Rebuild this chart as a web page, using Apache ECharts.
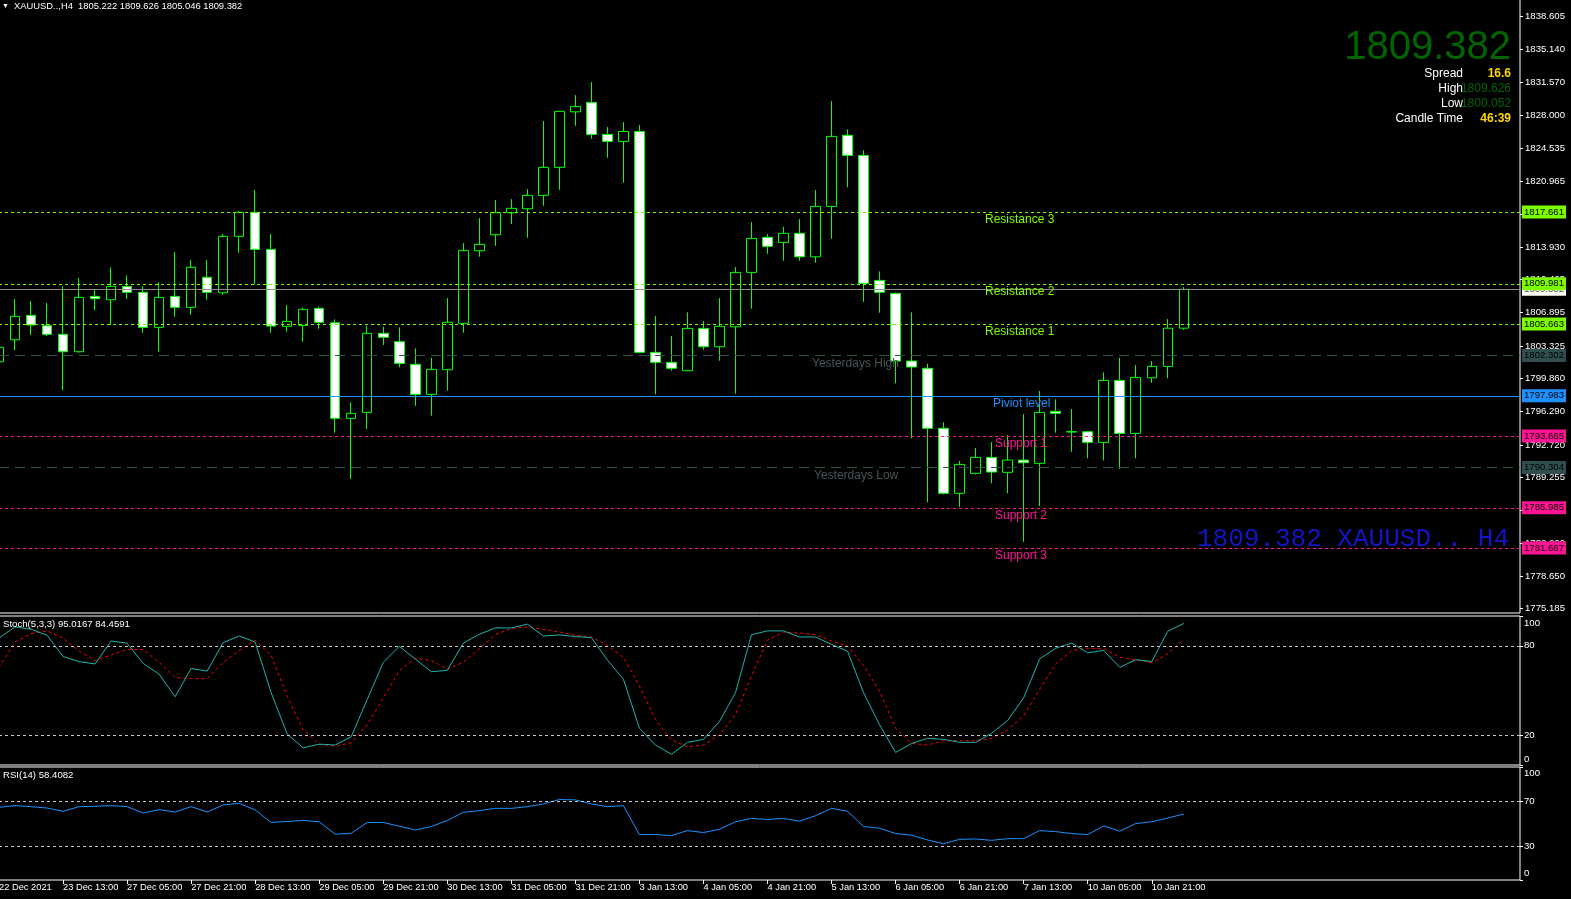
<!DOCTYPE html>
<html><head><meta charset="utf-8">
<script src="https://cdn.jsdelivr.net/npm/echarts@6/dist/echarts.min.js"></script>
<style>html,body{margin:0;padding:0;background:#000;overflow:hidden}#c{width:1571px;height:899px;}</style>
</head><body><div id="c"></div>
<script>
// ---------- DATA ----------
const opens  = [1801.62,1803.98,1806.60,1805.48,1804.56,1802.70,1808.63,1808.27,1809.70,1809.06,
  1805.31,1808.63,1807.45,1810.67,1809.02,1815.06,1817.63,1813.66,1805.42,1805.52,
  1807.34,1805.80,1795.56,1796.20,1804.67,1803.77,1801.35,1798.13,1800.77,1805.74,
  1813.51,1815.23,1817.59,1818.01,1819.45,1822.45,1828.40,1829.41,1825.98,1825.23,
  1826.30,1802.63,1801.56,1800.66,1805.20,1803.23,1805.37,1811.20,1814.95,1814.41,
  1815.38,1812.87,1818.27,1825.88,1823.73,1810.34,1808.95,1801.70,1800.92,1794.49,
  1787.53,1789.67,1791.38,1789.78,1791.09,1790.74,1796.31,1794.13,1794.13,1792.99,
  1799.63,1793.95,1799.91,1801.13,1805.222];
const highs  = [1803.50,1808.34,1808.13,1807.91,1809.73,1810.59,1809.41,1811.74,1810.88,1809.73,
  1810.16,1813.38,1812.52,1812.52,1815.30,1817.74,1820.02,1815.30,1807.70,1807.41,
  1807.52,1806.17,1797.28,1805.48,1805.37,1805.31,1803.06,1802.05,1808.45,1814.34,
  1817.02,1818.95,1819.05,1820.12,1827.41,1828.48,1830.19,1831.59,1826.77,1827.30,
  1826.98,1806.52,1804.38,1806.92,1805.98,1808.45,1811.77,1816.59,1815.30,1816.09,
  1816.91,1820.02,1829.55,1826.52,1824.27,1811.31,1809.06,1806.92,1801.41,1795.13,
  1790.99,1792.38,1793.02,1793.77,1796.02,1798.49,1797.60,1796.56,1794.20,1800.49,
  1802.05,1801.27,1801.70,1806.20,1809.626];
const lows   = [1801.40,1802.88,1804.48,1804.38,1798.59,1802.60,1807.16,1805.56,1808.34,1804.73,
  1802.70,1806.45,1806.66,1808.27,1808.80,1813.30,1809.92,1804.73,1804.84,1803.77,
  1805.16,1794.02,1789.06,1794.42,1803.41,1801.02,1796.91,1795.84,1798.52,1804.73,
  1812.87,1814.05,1816.38,1814.91,1818.34,1820.05,1826.91,1825.51,1823.48,1820.80,
  1802.55,1798.13,1800.66,1800.60,1802.91,1801.73,1798.20,1807.30,1813.19,1812.44,
  1812.44,1812.23,1814.80,1820.31,1808.05,1806.87,1799.31,1793.42,1786.56,1787.42,
  1786.09,1789.56,1788.60,1787.53,1782.34,1786.17,1794.02,1791.98,1791.28,1791.06,
  1790.13,1791.28,1799.38,1799.85,1805.046];
const closes = [1803.17,1806.49,1805.56,1804.56,1802.70,1808.52,1808.37,1809.70,1809.06,1805.31,
  1808.52,1807.45,1811.74,1809.06,1815.06,1817.63,1813.66,1805.45,1805.95,1807.24,
  1805.85,1795.56,1796.10,1804.67,1804.24,1801.45,1798.13,1800.81,1805.85,1813.56,
  1814.20,1817.59,1818.06,1819.45,1822.45,1828.45,1828.98,1825.98,1825.23,1826.30,
  1802.63,1801.56,1800.92,1805.20,1803.23,1805.42,1811.20,1814.84,1813.99,1815.38,
  1812.87,1818.27,1825.77,1823.73,1810.02,1809.06,1801.70,1801.06,1794.49,1787.53,
  1790.63,1791.38,1789.81,1791.09,1790.81,1796.20,1796.10,1794.10,1792.99,1799.63,
  1793.95,1799.95,1801.13,1805.22,1809.382];

const stochMain = [85.2,92.7,91.1,87.1,72.8,69.4,67.8,83.2,81.8,68.2,
  61.0,45.8,64.8,63.0,82.1,86.6,82.5,48.5,20.8,11.5,
  14.0,13.4,19.0,44.0,68.9,79.6,71.2,62.6,63.5,81.8,
  87.7,92.0,92.0,94.5,86.6,87.3,86.2,85.5,70.5,57.6,
  24.7,13.4,7.2,15.2,17.2,29.2,48.5,87.5,90.0,90.0,
  85.9,85.9,80.9,76.4,48.5,27.0,8.4,14.5,17.9,17.2,
  15.2,15.2,21.3,29.9,45.1,71.2,78.4,81.8,75.3,76.9,
  65.5,70.7,69.4,89.8,95.0167];
const stochSignal = [65.5,82.5,88.2,90.0,85.2,76.4,70.1,73.9,77.5,77.5,
  68.9,58.7,58.0,58.0,68.9,76.9,83.7,73.5,46.2,23.6,
  13.8,12.7,14.9,27.0,45.1,63.3,71.6,70.1,64.4,68.9,
  78.0,87.5,91.6,92.7,91.1,89.3,87.1,85.9,80.3,72.3,
  53.0,30.4,16.8,12.2,13.4,20.2,33.8,59.8,83.7,89.3,
  88.6,87.5,83.2,79.8,66.7,49.6,24.7,14.5,13.4,16.3,
  16.3,16.3,17.9,23.6,33.1,50.8,67.8,76.9,78.4,78.0,
  72.3,70.7,68.5,74.6,84.4591];
const rsiValues = [64.3,65.8,64.9,63.7,60.8,64.9,65.2,65.8,64.9,59.3,
  62.3,60.2,64.9,60.2,66.4,67.9,62.0,50.9,51.8,52.7,
  51.5,40.5,41.4,50.9,50.9,47.6,44.3,47.3,52.7,59.9,
  61.4,63.4,63.4,64.9,67.3,71.2,70.9,67.3,64.9,65.8,
  40.2,40.2,39.3,43.7,42.0,44.9,51.5,54.5,53.6,54.5,
  52.1,56.9,63.4,60.8,47.3,45.8,41.1,39.6,35.4,32.1,
  36.0,36.3,35.1,36.6,36.6,43.7,42.8,41.1,40.2,47.9,
  43.2,50.0,51.5,54.8,58.4082];

const xTickLabels = ['22 Dec 2021','23 Dec 13:00','27 Dec 05:00','27 Dec 21:00','28 Dec 13:00','29 Dec 05:00',
  '29 Dec 21:00','30 Dec 13:00','31 Dec 05:00','31 Dec 21:00','3 Jan 13:00','4 Jan 05:00','4 Jan 21:00',
  '5 Jan 13:00','6 Jan 05:00','6 Jan 21:00','7 Jan 13:00','10 Jan 05:00','10 Jan 21:00'];
const priceTicks = [1775.185,1778.650,1782.220,1785.685,1789.255,1792.720,1796.290,1799.860,1803.325,
  1806.895,1810.465,1813.930,1817.395,1820.965,1824.535,1828.000,1831.570,1835.140,1838.605];
const stochTicks = [0,20,80,100];
const rsiTicks = [0,30,70,100];
const stochLevels = [80,20];
const rsiLevels = [70,30];

const levelNames  = ['Resistance 3','Resistance 2','Resistance 1','Yesterdays High','Piviot level','Support 1','Yesterdays Low','Support 2','Support 3'];
const levelValues = [1817.661,1809.981,1805.663,1802.302,1797.983,1793.665,1790.304,1785.985,1781.667];
const currentPrice = 1809.382;
const symbolName = 'XAUUSD..';
const timeframe = 'H4';
const spreadValue = '16.6';
const dayHigh = '1809.626';
const dayLow = '1800.052';
const candleTime = '46:39';

// ---------- STYLE ----------
const FONT = 'Liberation Sans';
const levelKind = ['R','R','R','Y','P','S','Y','S','S'];
const kindColor = {R:'#7CFC00', Y:'#2F4F4F', P:'#1E90FF', S:'#FF1493'};
const kindText  = {R:'#7CFC00', Y:'#465656', P:'#1E90FF', S:'#FF1493'};
const kindDash  = {R:[3,3], Y:[10,6], P:'solid', S:[3,3]};
const labelX    = [985,985,985,812,993,995,814,995,995];

const N = 96;
const cats = Array.from({length:N}, (_, i) => String(i));
const candleData = opens.map((o, i) => [o, closes[i], lows[i], highs[i]]);

const badge = (bg, fg) => ({show:true, position:'end', distance:2, backgroundColor:bg, color:fg,
  fontSize:9.6, fontFamily:FONT, padding:[2,2,1,2], formatter: p => Number(p.value).toFixed(3)});

const markData = [{yAxis: currentPrice, lineStyle:{color:'#8c8c8c', type:'solid', width:1}, label: badge('#ffffff','#505050')}];
levelValues.forEach((v, i) => {
  const k = levelKind[i];
  markData.push({yAxis: v, lineStyle:{color:kindColor[k], type:kindDash[k], width:1}, label: badge(kindColor[k], '#000')});
});

const xTickShow = i => i % 4 === 0 && i / 4 < xTickLabels.length;

const gridBase = {left:-1, width:1521, show:true, borderColor:'#ffffff', borderWidth:1, backgroundColor:'transparent',
  containLabel:false, outerBoundsMode:'none'};

const option = {
  backgroundColor:'#000000',
  animation:false,
  textStyle:{fontFamily:FONT},
  grid:[
    Object.assign({top:-3, height:616}, gridBase),
    Object.assign({top:616, height:149}, gridBase),
    Object.assign({top:767, height:113}, gridBase)
  ],
  xAxis:[
    {type:'category', gridIndex:0, data:cats, boundaryGap:false, show:false},
    {type:'category', gridIndex:1, data:cats, boundaryGap:false, show:false},
    {type:'category', gridIndex:2, data:cats, boundaryGap:false,
      axisLine:{show:false},
      axisTick:{show:true, interval:(i)=>xTickShow(i), length:4, lineStyle:{color:'#ffffff'}},
      axisLabel:{show:true, interval:(i)=>xTickShow(i), formatter:(v, i)=> xTickShow(i) ? xTickLabels[i/4] : '',
        align:'left', color:'#ffffff', fontSize:9.3, fontFamily:FONT, margin:3, padding:[0,0,0,0]},
      splitLine:{show:false}}
  ],
  yAxis:[
    {type:'value', gridIndex:0, position:'right', min:1774.71, max:1840.70, scale:true,
      axisLine:{show:false}, splitLine:{show:false},
      axisTick:{show:true, length:3, lineStyle:{color:'#ffffff'}, customValues:priceTicks},
      axisLabel:{customValues:priceTicks, formatter:v=>Number(v).toFixed(3), color:'#ffffff', fontSize:9.6, fontFamily:FONT, margin:5}},
    {type:'value', gridIndex:1, position:'right', min:0, max:100,
      axisLine:{show:false}, splitLine:{show:false},
      axisTick:{show:true, length:3, lineStyle:{color:'#ffffff'}, customValues:stochTicks},
      axisLabel:{customValues:stochTicks, color:'#ffffff', fontSize:9.6, fontFamily:FONT, margin:4,
        formatter:v=> v===100 ? '{t|100}' : (v===0 ? '{b|0}' : String(v)),
        rich:{t:{padding:[14,0,0,0], color:'#fff', fontSize:9.6, fontFamily:FONT}, b:{padding:[0,0,12,0], color:'#fff', fontSize:9.6, fontFamily:FONT}}}},
    {type:'value', gridIndex:2, position:'right', min:0, max:100,
      axisLine:{show:false}, splitLine:{show:false},
      axisTick:{show:true, length:3, lineStyle:{color:'#ffffff'}, customValues:rsiTicks},
      axisLabel:{customValues:rsiTicks, color:'#ffffff', fontSize:9.6, fontFamily:FONT, margin:4,
        formatter:v=> v===100 ? '{t|100}' : (v===0 ? '{b|0}' : String(v)),
        rich:{t:{padding:[12,0,0,0], color:'#fff', fontSize:9.6, fontFamily:FONT}, b:{padding:[0,0,14,0], color:'#fff', fontSize:9.6, fontFamily:FONT}}}}
  ],
  series:[
    {type:'candlestick', xAxisIndex:0, yAxisIndex:0, data:candleData, barWidth:10,
      itemStyle:{color:'#000000', color0:'#ffffff', borderColor:'#00ff00', borderColor0:'#00ff00', borderColorDoji:'#00ff00', borderWidth:1},
      markLine:{symbol:['none','none'], silent:true, animation:false, precision:3, data:markData}},
    {type:'line', xAxisIndex:1, yAxisIndex:1, data:stochMain, showSymbol:false, symbol:'none',
      lineStyle:{color:'#20B2AA', width:1}, z:3,
      markLine:{symbol:['none','none'], silent:true, animation:false, label:{show:false},
        data: stochLevels.map(v=>({yAxis:v})), lineStyle:{color:'#c8c8c8', type:[3,3], width:1}}},
    {type:'line', xAxisIndex:1, yAxisIndex:1, data:stochSignal, showSymbol:false, symbol:'none',
      lineStyle:{color:'#ff0000', width:1, type:[3,3]}, z:2},
    {type:'line', xAxisIndex:2, yAxisIndex:2, data:rsiValues, showSymbol:false, symbol:'none',
      lineStyle:{color:'#1E90FF', width:1},
      markLine:{symbol:['none','none'], silent:true, animation:false, label:{show:false},
        data: rsiLevels.map(v=>({yAxis:v})), lineStyle:{color:'#c8c8c8', type:[3,3], width:1}}}
  ]
};

const chart = echarts.init(document.getElementById('c'), null, {renderer:'canvas'});
chart.setOption(option);

const txt = (x, y, text, fill, font, align) => ({type:'text', x:x, y:y, silent:true, z:50,
  style:{text:text, fill:fill, font:font, align:align||'left', verticalAlign:'middle'}});

const g = [];
g.push(txt(2, 6, '\u25BC', '#ffffff', '7px "' + FONT + '"'));
g.push(txt(14, 6, symbolName + ',' + timeframe + '  ' + opens[opens.length-1].toFixed(3) + ' ' + highs[highs.length-1].toFixed(3) + ' ' +
  lows[lows.length-1].toFixed(3) + ' ' + closes[closes.length-1].toFixed(3), '#ffffff', '9.4px "' + FONT + '"'));
g.push(txt(1511, 48, currentPrice.toFixed(3), '#006400', '40px "' + FONT + '"', 'right'));
g.push(txt(1463, 74, 'Spread', '#ffffff', '12px "' + FONT + '"', 'right'));
g.push(txt(1511, 74, spreadValue, '#FFD700', 'bold 12px "' + FONT + '"', 'right'));
g.push(txt(1463, 89, 'High', '#ffffff', '12px "' + FONT + '"', 'right'));
g.push(txt(1511, 89, dayHigh, '#006400', '12px "' + FONT + '"', 'right'));
g.push(txt(1463, 104, 'Low', '#ffffff', '12px "' + FONT + '"', 'right'));
g.push(txt(1511, 104, dayLow, '#006400', '12px "' + FONT + '"', 'right'));
g.push(txt(1463, 119, 'Candle Time', '#ffffff', '12px "' + FONT + '"', 'right'));
g.push(txt(1511, 119, candleTime, '#FFD700', 'bold 12px "' + FONT + '"', 'right'));
g.push(txt(1509, 539, currentPrice.toFixed(3) + ' ' + symbolName + ' ' + timeframe, '#1414c8', '26px "Liberation Mono"', 'right'));
g.push(txt(3, 624, 'Stoch(5,3,3) ' + stochMain[stochMain.length-1].toFixed(4) + ' ' + stochSignal[stochSignal.length-1].toFixed(4), '#ffffff', '9.6px "' + FONT + '"'));
g.push(txt(3, 775, 'RSI(14) ' + rsiValues[rsiValues.length-1].toFixed(4), '#ffffff', '9.6px "' + FONT + '"'));
levelValues.forEach((v, i) => {
  const y = chart.convertToPixel({yAxisIndex:0}, v);
  g.push(txt(labelX[i], y + 8, levelNames[i], kindText[levelKind[i]], '12px "' + FONT + '"'));
});
chart.setOption({graphic:g});
</script>
</body></html>
